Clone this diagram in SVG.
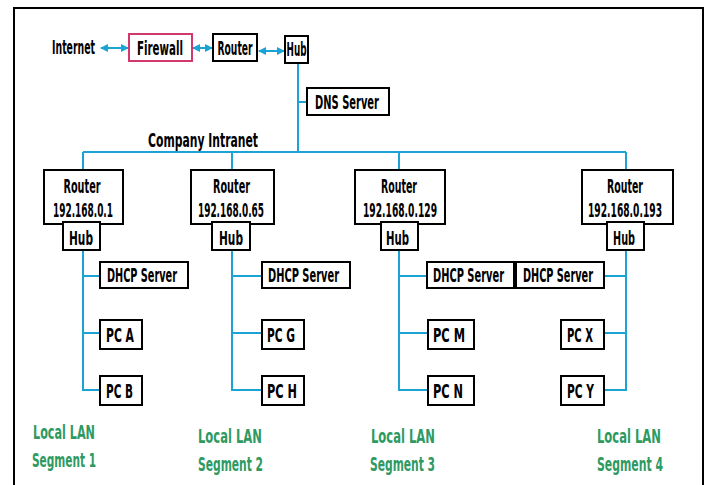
<svg xmlns="http://www.w3.org/2000/svg" width="710" height="485" viewBox="0 0 710 485">
<defs>
<style>
.t{font-family:"Liberation Sans Narrow","DejaVu Sans Condensed","Liberation Sans",sans-serif;font-weight:bold;font-size:19px;fill:#000;text-anchor:middle}
.g{fill:#2e9a62;text-anchor:start}
.b{fill:#fff;stroke:#000;stroke-width:2}
.fw{fill:#fff;stroke:#d2386e;stroke-width:2}
.c{fill:none;stroke:#1ba3d6;stroke-width:2}
</style>
<marker id="ah" viewBox="0 0 8 8" refX="7" refY="4" markerWidth="8" markerHeight="8" markerUnits="userSpaceOnUse" orient="auto-start-reverse">
<path d="M0,0 L8,4 L0,8 z" fill="#1ba3d6"/>
</marker>
</defs>
<rect x="0" y="0" width="710" height="485" fill="#fff"/>
<rect x="14" y="8" width="689" height="490" fill="none" stroke="#000" stroke-width="2"/>

<g id="connectors">
<line class="c" x1="101" y1="48" x2="128" y2="48" marker-start="url(#ah)" marker-end="url(#ah)"/>
<line class="c" x1="193" y1="48" x2="212" y2="48" marker-start="url(#ah)" marker-end="url(#ah)"/>
<line class="c" x1="259" y1="51" x2="284" y2="51" marker-start="url(#ah)" marker-end="url(#ah)"/>
<path class="c" d="M298,63 V152 M298,102 H307 M83,152 H626"/>
<path class="c" d="M83,152 V170 M232,152 V170 M399,152 V170 M626,152 V170"/>
<path class="c" d="M83,250 V390 H100 M83,276 H100 M83,333 H100"/>
<path class="c" d="M232,250 V390 H262 M232,276 H262 M232,333 H262"/>
<path class="c" d="M399,250 V390 H428 M399,276 H427 M399,333 H428"/>
<path class="c" d="M626,250 V390 H604 M626,276 H604 M626,333 H604"/>
</g>

<text class="t" x="52" y="54" style="text-anchor:start" textLength="43" lengthAdjust="spacingAndGlyphs">Internet</text>
<g id="firewall"><rect class="fw" x="129" y="34" width="63" height="27"/><text class="t" x="160" y="55" textLength="46" lengthAdjust="spacingAndGlyphs">Firewall</text></g>
<g id="router-main"><rect class="b" x="213" y="34" width="44" height="27"/><text class="t" x="235" y="55" textLength="35" lengthAdjust="spacingAndGlyphs">Router</text></g>
<g id="hub-main"><rect class="b" x="285" y="36" width="23" height="27"/><text class="t" x="296.5" y="56" textLength="20" lengthAdjust="spacingAndGlyphs">Hub</text></g>
<g id="dns"><rect class="b" x="307" y="88" width="82" height="27"/><text class="t" x="347" y="109" textLength="64" lengthAdjust="spacingAndGlyphs">DNS Server</text></g>
<text class="t" x="203" y="147" textLength="110" lengthAdjust="spacingAndGlyphs">Company Intranet</text>

<g id="router1"><rect class="b" x="44" y="170" width="79" height="54"/><text class="t" x="82" y="193" textLength="37" lengthAdjust="spacingAndGlyphs">Router</text><text class="t" x="83" y="217" textLength="60" lengthAdjust="spacingAndGlyphs">192.168.0.1</text></g>
<g id="hub1"><rect class="b" x="63" y="222" width="37" height="28"/><text class="t" x="81" y="245" textLength="24" lengthAdjust="spacingAndGlyphs">Hub</text></g>
<g id="dhcp1"><rect class="b" x="100" y="262" width="88" height="26"/><text class="t" x="142" y="282" textLength="70" lengthAdjust="spacingAndGlyphs">DHCP Server</text></g>
<g id="pca"><rect class="b" x="100" y="320" width="42" height="29"/><text class="t" x="120" y="342" textLength="28" lengthAdjust="spacingAndGlyphs">PC A</text></g>
<g id="pcb"><rect class="b" x="100" y="376" width="42" height="29"/><text class="t" x="119.5" y="398" textLength="27" lengthAdjust="spacingAndGlyphs">PC B</text></g>

<g id="router2"><rect class="b" x="191" y="170" width="83" height="54"/><text class="t" x="231.5" y="193" textLength="37" lengthAdjust="spacingAndGlyphs">Router</text><text class="t" x="231" y="217" textLength="66" lengthAdjust="spacingAndGlyphs">192.168.0.65</text></g>
<g id="hub2"><rect class="b" x="212" y="222" width="38" height="28"/><text class="t" x="231" y="245" textLength="24" lengthAdjust="spacingAndGlyphs">Hub</text></g>
<g id="dhcp2"><rect class="b" x="262" y="262" width="88" height="26"/><text class="t" x="303.5" y="282" textLength="71" lengthAdjust="spacingAndGlyphs">DHCP Server</text></g>
<g id="pcg"><rect class="b" x="262" y="320" width="42" height="29"/><text class="t" x="281" y="342" textLength="28" lengthAdjust="spacingAndGlyphs">PC G</text></g>
<g id="pch"><rect class="b" x="262" y="376" width="42" height="29"/><text class="t" x="282" y="398" textLength="30" lengthAdjust="spacingAndGlyphs">PC H</text></g>

<g id="router3"><rect class="b" x="355" y="170" width="90" height="54"/><text class="t" x="399" y="193" textLength="36" lengthAdjust="spacingAndGlyphs">Router</text><text class="t" x="400" y="217" textLength="74" lengthAdjust="spacingAndGlyphs">192.168.0.129</text></g>
<g id="hub3"><rect class="b" x="381" y="222" width="37" height="28"/><text class="t" x="397.5" y="245" textLength="23" lengthAdjust="spacingAndGlyphs">Hub</text></g>
<g id="dhcp3"><rect class="b" x="427" y="262" width="87" height="26"/><text class="t" x="468.5" y="282" textLength="71" lengthAdjust="spacingAndGlyphs">DHCP Server</text></g>
<g id="pcm"><rect class="b" x="428" y="320" width="46" height="29"/><text class="t" x="449" y="342" textLength="32" lengthAdjust="spacingAndGlyphs">PC M</text></g>
<g id="pcn"><rect class="b" x="428" y="376" width="46" height="29"/><text class="t" x="448" y="398" textLength="30" lengthAdjust="spacingAndGlyphs">PC N</text></g>

<g id="router4"><rect class="b" x="582" y="170" width="91" height="54"/><text class="t" x="625" y="193" textLength="36" lengthAdjust="spacingAndGlyphs">Router</text><text class="t" x="625" y="217" textLength="74" lengthAdjust="spacingAndGlyphs">192.168.0.193</text></g>
<g id="hub4"><rect class="b" x="607" y="222" width="37" height="28"/><text class="t" x="624" y="245" textLength="22" lengthAdjust="spacingAndGlyphs">Hub</text></g>
<g id="dhcp4"><rect class="b" x="516" y="262" width="88" height="26"/><text class="t" x="558" y="282" textLength="70" lengthAdjust="spacingAndGlyphs">DHCP Server</text></g>
<g id="pcx"><rect class="b" x="561" y="320" width="43" height="29"/><text class="t" x="580" y="342" textLength="26" lengthAdjust="spacingAndGlyphs">PC X</text></g>
<g id="pcy"><rect class="b" x="561" y="376" width="43" height="29"/><text class="t" x="580.5" y="398" textLength="27" lengthAdjust="spacingAndGlyphs">PC Y</text></g>

<g id="segments">
<text class="t g" x="33" y="439" textLength="62" lengthAdjust="spacingAndGlyphs">Local LAN</text>
<text class="t g" x="32" y="467" textLength="64" lengthAdjust="spacingAndGlyphs">Segment 1</text>
<text class="t g" x="198" y="443" textLength="64" lengthAdjust="spacingAndGlyphs">Local LAN</text>
<text class="t g" x="198" y="471" textLength="65" lengthAdjust="spacingAndGlyphs">Segment 2</text>
<text class="t g" x="371" y="443" textLength="64" lengthAdjust="spacingAndGlyphs">Local LAN</text>
<text class="t g" x="370" y="471" textLength="65" lengthAdjust="spacingAndGlyphs">Segment 3</text>
<text class="t g" x="597" y="443" textLength="64" lengthAdjust="spacingAndGlyphs">Local LAN</text>
<text class="t g" x="597" y="471" textLength="66" lengthAdjust="spacingAndGlyphs">Segment 4</text>
</g>
</svg>
